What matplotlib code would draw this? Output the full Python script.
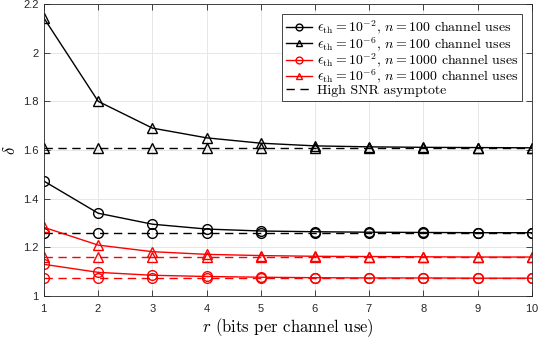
import numpy as np
import matplotlib
matplotlib.use('Agg')
import matplotlib.pyplot as plt

plt.rcParams['mathtext.fontset'] = 'cm'
plt.rcParams['axes.formatter.use_mathtext'] = True

### Data.
r = [1, 2, 3, 4, 5, 6, 7, 8, 9, 10]

n100_e2 = [1.472, 1.340, 1.295, 1.275, 1.267, 1.264, 1.262, 1.261, 1.260, 1.260]
n100_e6 = [2.142, 1.800, 1.690, 1.650, 1.628, 1.617, 1.613, 1.611, 1.610, 1.609]
n1000_e2 = [1.130, 1.097, 1.085, 1.080, 1.077, 1.075, 1.074, 1.074, 1.073, 1.073]
n1000_e6 = [1.282, 1.209, 1.182, 1.171, 1.166, 1.163, 1.162, 1.161, 1.160, 1.160]

asym_n100_e2 = [1.260] * 10
asym_n100_e6 = [1.608] * 10
asym_n1000_e2 = [1.072] * 10
asym_n1000_e6 = [1.159] * 10

labels = [r'$\epsilon_{\mathrm{th}}=10^{-2}$, $n=100$ channel uses',
          r'$\epsilon_{\mathrm{th}}=10^{-6}$, $n=100$ channel uses',
          r'$\epsilon_{\mathrm{th}}=10^{-2}$, $n=1000$ channel uses',
          r'$\epsilon_{\mathrm{th}}=10^{-6}$, $n=1000$ channel uses',
          'High SNR asymptote']

fig = plt.figure(figsize=(5.4, 3.39), dpi=100)
ax = fig.add_axes([0.0815, 0.127, 0.9035, 0.861])

ms = 7
dash = (6, 4)
kw = dict(markerfacecolor='none', markersize=ms, markeredgewidth=1.0, linewidth=1.0)

### Asymptotes (dashed).
ax.plot(r, asym_n100_e6, 'k--^', dashes=dash, **kw)
ax.plot(r, asym_n100_e2, 'k--o', dashes=dash, **kw)
ax.plot(r, asym_n1000_e6, 'r--^', dashes=dash, **kw)
ax.plot(r, asym_n1000_e2, 'r--o', dashes=dash, **kw)

### Finite blocklength curves.
h1, = ax.plot(r, n100_e2, 'k-o', **kw)
h2, = ax.plot(r, n100_e6, 'k-^', **kw)
h3, = ax.plot(r, n1000_e2, 'r-o', **kw)
h4, = ax.plot(r, n1000_e6, 'r-^', **kw)
h5, = ax.plot([], [], 'k--', dashes=dash, linewidth=1.0)

ax.set_xlim(1, 10)
ax.set_ylim(1, 2.2)
ax.set_xticks(r)
ax.set_yticks([1, 1.2, 1.4, 1.6, 1.8, 2, 2.2])
ax.set_yticklabels(['1', '1.2', '1.4', '1.6', '1.8', '2', '2.2'])
ax.grid(True, color='#e3e3e3', linewidth=0.6)
ax.set_axisbelow(True)
ax.tick_params(direction='in', length=4, width=0.6, top=True, right=True,
               labelsize=8, colors='#262626', pad=4)
for lab in ax.get_xticklabels() + ax.get_yticklabels():
    lab.set_family('Liberation Sans')
for s in ax.spines.values():
    s.set_color('#262626')
    s.set_linewidth(0.6)

ax.set_xlabel(r'$r$ (bits per channel use)', family='cmr10', fontsize=12, labelpad=2)
ax.set_ylabel(r'$\delta$', fontsize=12, labelpad=3)

leg = ax.legend([h1, h2, h3, h4, h5], labels, loc='upper right',
                bbox_to_anchor=(0.98, 0.965), prop={'family': 'cmr10', 'size': 10},
                handlelength=1.9, handletextpad=0.3, borderpad=0.3, labelspacing=-0.1,
                markerscale=0.7, fancybox=False, framealpha=1, edgecolor='#262626',
                borderaxespad=0.0)
leg.get_frame().set_linewidth(0.6)

fig.savefig('out.png', dpi=100)
